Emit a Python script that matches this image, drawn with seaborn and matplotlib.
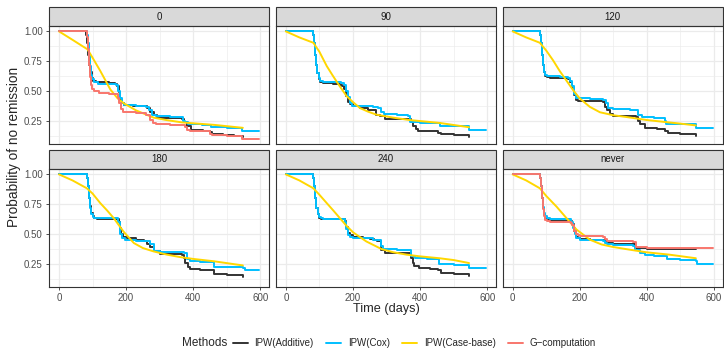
import pandas as pd
import numpy as np
import matplotlib.pyplot as plt
import matplotlib.ticker as mtick
from matplotlib.lines import Line2D
from matplotlib.patches import Rectangle
import seaborn as sns

# ─── DATA ─────────────────────────────────────────────────────────────────────
FACETS  = ["0", "90", "120", "180", "240", "never"]
METHODS = ["IPW(Additive)", "IPW(Cox)", "IPW(Case-base)", "G\u2212computation"]

# facet "0"
t_add_0 = [0, 81, 84, 87, 90, 93, 97, 102, 110, 150, 168, 173, 178, 183, 188, 195, 220, 262, 272, 282, 292, 330, 367, 372, 380, 392, 430, 451, 456, 490, 521, 548]
s_add_0 = [1.0, 0.97, 0.9, 0.8, 0.72, 0.66, 0.61, 0.59, 0.575, 0.57, 0.56, 0.54, 0.49, 0.43, 0.40, 0.385, 0.375, 0.36, 0.33, 0.305, 0.28, 0.275, 0.265, 0.24, 0.21, 0.175, 0.17, 0.16, 0.14, 0.135, 0.125, 0.12]
t_cox_0 = [0, 83, 86, 89, 92, 95, 99, 104, 115, 150, 170, 176, 182, 188, 195, 230, 258, 268, 278, 290, 330, 370, 376, 385, 400, 425, 452, 460, 500, 545, 550, 597]
s_cox_0 = [1.0, 0.97, 0.9, 0.8, 0.71, 0.64, 0.6, 0.575, 0.565, 0.56, 0.55, 0.5, 0.44, 0.40, 0.385, 0.375, 0.365, 0.34, 0.30, 0.29, 0.285, 0.255, 0.24, 0.23, 0.225, 0.22, 0.205, 0.20, 0.195, 0.17, 0.165, 0.165]
t_cb_0  = [0, 40, 85, 100, 123, 153, 175, 193, 230, 282, 320, 367, 461, 548]
s_cb_0  = [1.0, 0.93, 0.85, 0.78, 0.67, 0.515, 0.44, 0.40, 0.34, 0.28, 0.26, 0.24, 0.22, 0.195]
t_gc_0  = [0, 83, 86, 89, 92, 95, 99, 104, 120, 150, 170, 176, 180, 186, 192, 230, 260, 272, 280, 288, 330, 375, 382, 390, 450, 456, 500, 545, 597]
s_gc_0  = [1.0, 0.95, 0.85, 0.72, 0.62, 0.55, 0.52, 0.50, 0.485, 0.48, 0.475, 0.44, 0.40, 0.35, 0.325, 0.315, 0.30, 0.26, 0.235, 0.225, 0.22, 0.2, 0.18, 0.17, 0.145, 0.135, 0.13, 0.105, 0.105]

# facet "90"
t_add_90 = [0, 82, 85, 88, 91, 94, 98, 102, 110, 140, 162, 168, 174, 180, 186, 192, 200, 221, 245, 270, 280, 295, 330, 369, 373, 379, 387, 394, 430, 453, 463, 500, 545]
s_add_90 = [1.0, 0.97, 0.9, 0.8, 0.72, 0.65, 0.6, 0.58, 0.57, 0.565, 0.555, 0.54, 0.515, 0.46, 0.41, 0.39, 0.38, 0.36, 0.345, 0.305, 0.29, 0.27, 0.268, 0.265, 0.24, 0.21, 0.185, 0.17, 0.165, 0.155, 0.14, 0.135, 0.12]
t_cox_90 = [0, 82, 85, 88, 91, 94, 98, 102, 110, 140, 165, 172, 178, 184, 190, 198, 215, 260, 275, 285, 292, 330, 364, 369, 400, 458, 547, 597]
s_cox_90 = [1.0, 0.97, 0.9, 0.8, 0.72, 0.65, 0.61, 0.59, 0.58, 0.575, 0.57, 0.55, 0.5, 0.45, 0.4, 0.38, 0.375, 0.37, 0.36, 0.33, 0.31, 0.305, 0.29, 0.245, 0.235, 0.21, 0.175, 0.175]
t_cb_90  = [0, 40, 82, 100, 122, 140, 157, 181, 200, 221, 245, 270, 320, 369, 458, 546]
s_cb_90  = [1.0, 0.95, 0.905, 0.83, 0.71, 0.63, 0.557, 0.46, 0.41, 0.36, 0.33, 0.305, 0.28, 0.26, 0.236, 0.20]

# facet "120"
t_add_120 = [0, 81, 84, 87, 90, 93, 97, 101, 110, 140, 165, 170, 176, 182, 188, 195, 230, 270, 275, 282, 290, 300, 340, 368, 374, 380, 393, 430, 453, 463, 500, 546]
s_add_120 = [1.0, 0.97, 0.9, 0.8, 0.72, 0.66, 0.63, 0.62, 0.615, 0.61, 0.605, 0.58, 0.53, 0.47, 0.43, 0.42, 0.415, 0.41, 0.37, 0.34, 0.31, 0.295, 0.29, 0.285, 0.25, 0.225, 0.195, 0.185, 0.17, 0.15, 0.14, 0.13]
t_cox_120 = [0, 81, 84, 87, 90, 93, 97, 101, 110, 140, 165, 170, 176, 182, 188, 195, 230, 270, 278, 285, 300, 350, 368, 374, 385, 420, 453, 458, 500, 546, 597]
s_cox_120 = [1.0, 0.97, 0.9, 0.8, 0.72, 0.66, 0.64, 0.63, 0.625, 0.62, 0.615, 0.59, 0.54, 0.48, 0.445, 0.44, 0.435, 0.43, 0.40, 0.36, 0.35, 0.345, 0.34, 0.30, 0.285, 0.28, 0.255, 0.23, 0.225, 0.195, 0.195]
t_cb_120  = [0, 40, 81, 100, 120, 140, 160, 180, 200, 230, 260, 300, 340, 400, 450, 500, 546]
s_cb_120  = [1.0, 0.95, 0.905, 0.84, 0.76, 0.67, 0.59, 0.51, 0.44, 0.37, 0.325, 0.30, 0.285, 0.26, 0.245, 0.23, 0.215]

# facet "180"
t_add_180 = [0, 83, 86, 89, 92, 96, 100, 105, 113, 140, 178, 182, 186, 190, 203, 230, 252, 262, 272, 282, 300, 367, 372, 376, 384, 391, 420, 451, 461, 500, 548]
s_add_180 = [1.0, 0.97, 0.9, 0.8, 0.74, 0.68, 0.65, 0.635, 0.625, 0.625, 0.6, 0.55, 0.5, 0.48, 0.47, 0.455, 0.44, 0.42, 0.39, 0.36, 0.335, 0.33, 0.3, 0.26, 0.23, 0.21, 0.205, 0.2, 0.17, 0.16, 0.145]
t_cox_180 = [0, 83, 86, 89, 92, 96, 100, 105, 113, 140, 175, 183, 188, 198, 230, 272, 282, 300, 372, 380, 391, 420, 461, 500, 548, 555, 597]
s_cox_180 = [1.0, 0.97, 0.9, 0.8, 0.72, 0.67, 0.645, 0.64, 0.635, 0.635, 0.6, 0.5, 0.465, 0.455, 0.44, 0.42, 0.36, 0.35, 0.345, 0.29, 0.275, 0.27, 0.23, 0.225, 0.22, 0.2, 0.2]
t_cb_180  = [0, 40, 83, 100, 123, 143, 163, 193, 223, 250, 282, 322, 360, 401, 461, 548]
s_cb_180  = [1.0, 0.95, 0.884, 0.84, 0.76, 0.70, 0.635, 0.52, 0.427, 0.385, 0.357, 0.33, 0.31, 0.294, 0.275, 0.24]

# facet "240"
t_add_240 = [0, 82, 85, 88, 91, 95, 99, 104, 112, 150, 175, 180, 185, 190, 201, 230, 250, 262, 272, 285, 295, 340, 373, 378, 383, 398, 430, 453, 463, 500, 546]
s_add_240 = [1.0, 0.97, 0.9, 0.8, 0.72, 0.67, 0.64, 0.63, 0.625, 0.625, 0.61, 0.56, 0.51, 0.49, 0.475, 0.465, 0.46, 0.45, 0.44, 0.37, 0.345, 0.345, 0.3, 0.26, 0.235, 0.22, 0.21, 0.2, 0.18, 0.17, 0.155]
t_cox_240 = [0, 82, 85, 88, 91, 95, 99, 104, 112, 150, 175, 180, 185, 190, 200, 230, 260, 270, 283, 290, 330, 365, 372, 385, 420, 455, 500, 546, 597]
s_cox_240 = [1.0, 0.97, 0.9, 0.8, 0.72, 0.67, 0.645, 0.635, 0.63, 0.63, 0.6, 0.54, 0.49, 0.475, 0.47, 0.465, 0.455, 0.45, 0.40, 0.375, 0.372, 0.37, 0.32, 0.3, 0.295, 0.255, 0.24, 0.22, 0.215]
t_cb_240  = [0, 40, 82, 100, 122, 141, 161, 181, 201, 240, 285, 320, 360, 399, 458, 500, 546]
s_cb_240  = [1.0, 0.95, 0.884, 0.83, 0.76, 0.70, 0.635, 0.57, 0.515, 0.44, 0.377, 0.35, 0.33, 0.316, 0.30, 0.285, 0.26]

# facet "never"
t_add_nv = [0, 81, 84, 87, 90, 93, 97, 101, 110, 140, 175, 178, 183, 188, 195, 200, 230, 270, 275, 280, 300, 360, 365, 400, 546]
s_add_nv = [1.0, 0.97, 0.9, 0.8, 0.72, 0.66, 0.63, 0.62, 0.615, 0.615, 0.61, 0.59, 0.53, 0.48, 0.47, 0.46, 0.455, 0.455, 0.44, 0.425, 0.42, 0.415, 0.385, 0.38, 0.38]
t_cox_nv = [0, 81, 84, 87, 90, 93, 97, 101, 110, 140, 160, 175, 180, 185, 190, 200, 230, 270, 275, 280, 300, 360, 365, 380, 395, 420, 455, 460, 500, 545, 550, 597]
s_cox_nv = [1.0, 0.97, 0.9, 0.8, 0.73, 0.68, 0.65, 0.635, 0.63, 0.63, 0.625, 0.6, 0.55, 0.5, 0.465, 0.455, 0.45, 0.445, 0.43, 0.42, 0.41, 0.405, 0.37, 0.345, 0.325, 0.32, 0.32, 0.29, 0.285, 0.275, 0.255, 0.255]
t_cb_nv  = [0, 40, 81, 100, 131, 165, 190, 230, 265, 299, 348, 398, 467, 546]
s_cb_nv  = [1.0, 0.95, 0.884, 0.82, 0.73, 0.62, 0.54, 0.455, 0.415, 0.394, 0.372, 0.35, 0.33, 0.30]
t_gc_nv  = [0, 81, 84, 87, 90, 93, 97, 101, 110, 140, 175, 178, 183, 188, 195, 200, 230, 270, 275, 280, 300, 360, 368, 400, 597]
s_gc_nv  = [1.0, 0.97, 0.9, 0.8, 0.71, 0.65, 0.62, 0.61, 0.605, 0.6, 0.595, 0.58, 0.53, 0.5, 0.49, 0.485, 0.485, 0.48, 0.46, 0.445, 0.44, 0.435, 0.39, 0.385, 0.385]

SERIES = [
    ("0", METHODS[0], t_add_0, s_add_0), ("0", METHODS[1], t_cox_0, s_cox_0),
    ("0", METHODS[2], t_cb_0, s_cb_0), ("0", METHODS[3], t_gc_0, s_gc_0),
    ("90", METHODS[0], t_add_90, s_add_90), ("90", METHODS[1], t_cox_90, s_cox_90),
    ("90", METHODS[2], t_cb_90, s_cb_90),
    ("120", METHODS[0], t_add_120, s_add_120), ("120", METHODS[1], t_cox_120, s_cox_120),
    ("120", METHODS[2], t_cb_120, s_cb_120),
    ("180", METHODS[0], t_add_180, s_add_180), ("180", METHODS[1], t_cox_180, s_cox_180),
    ("180", METHODS[2], t_cb_180, s_cb_180),
    ("240", METHODS[0], t_add_240, s_add_240), ("240", METHODS[1], t_cox_240, s_cox_240),
    ("240", METHODS[2], t_cb_240, s_cb_240),
    ("never", METHODS[0], t_add_nv, s_add_nv), ("never", METHODS[1], t_cox_nv, s_cox_nv),
    ("never", METHODS[2], t_cb_nv, s_cb_nv), ("never", METHODS[3], t_gc_nv, s_gc_nv),
]

df = pd.concat([pd.DataFrame({"facet": f, "method": m, "time": t, "surv": s})
                for f, m, t, s in SERIES], ignore_index=True)

# ─── STYLE ────────────────────────────────────────────────────────────────────
sns.set_theme(style="white")
plt.rcParams["font.family"] = ["Liberation Sans", "DejaVu Sans"]

COLORS = {METHODS[0]: "#333333", METHODS[1]: "#00BFFF",
          METHODS[2]: "#FFD700", METHODS[3]: "#F8766D"}
DARK = "#333333"
GRID = "#EBEBEB"
LW = 1.4
W, H = 724, 349


def draw(data, **kws):
    ax = plt.gca()
    for m in METHODS:
        d = data[data["method"] == m]
        if d.empty:
            continue
        ds = "default" if m == METHODS[2] else "steps-post"
        sns.lineplot(data=d, x="time", y="surv", ax=ax, color=COLORS[m],
                     lw=LW, drawstyle=ds, estimator=None, sort=True)


g = sns.FacetGrid(df, col="facet", col_wrap=3, col_order=FACETS,
                  despine=False, sharex=True, sharey=True)
g.map_dataframe(draw)
fig = g.figure
fig.set_size_inches(W / 100, H / 100)
fig.subplots_adjust(left=49 / W, right=723 / W, top=1 - 26 / H, bottom=1 - 287 / H,
                    wspace=6.5 / 220.5, hspace=25 / 118)

strip_h = 19 / 118
for i, (ax, name) in enumerate(zip(g.axes.flat, FACETS)):
    ax.set_title("")
    ax.set_xlabel("")
    ax.set_ylabel("")
    ax.set_xlim(-29.85, 626.85)
    ax.set_ylim(0.06, 1.045)
    ax.set_facecolor("white")
    ax.xaxis.set_major_locator(mtick.FixedLocator([0, 200, 400, 600]))
    ax.xaxis.set_minor_locator(mtick.FixedLocator([100, 300, 500]))
    ax.yaxis.set_major_locator(mtick.FixedLocator([0.25, 0.5, 0.75, 1.0]))
    ax.yaxis.set_minor_locator(mtick.FixedLocator([0.125, 0.375, 0.625, 0.875]))
    ax.yaxis.set_major_formatter(mtick.FuncFormatter(lambda v, _: f"{v:.2f}"))
    ax.grid(which="major", color=GRID, lw=0.9)
    ax.grid(which="minor", color=GRID, lw=0.45)
    ax.set_axisbelow(True)
    for sp in ax.spines.values():
        sp.set_color(DARK)
        sp.set_linewidth(0.8)
    bottom = i >= 3
    left = i % 3 == 0
    ax.tick_params(axis="x", which="major", bottom=bottom, labelbottom=bottom,
                   length=2.5, width=0.6, color=DARK, labelsize=7, labelcolor="#4D4D4D", pad=2)
    ax.tick_params(axis="y", which="major", left=left, labelleft=left,
                   length=2.5, width=0.6, color=DARK, labelsize=7, labelcolor="#4D4D4D", pad=2)
    ax.tick_params(which="minor", length=0)
    # facet strip
    ax.add_patch(Rectangle((0, 1), 1, strip_h, transform=ax.transAxes,
                           facecolor="#D9D9D9", edgecolor=DARK, lw=0.8, clip_on=False))
    ax.text(0.5, 1 + strip_h / 2, name, transform=ax.transAxes, ha="center",
            va="center", fontsize=7, color="#1A1A1A")

fig.text(386 / W, 1 - 309 / H, "Time (days)", ha="center", va="center", fontsize=9.2)
fig.text(14 / W, 1 - 147 / H, "Probability of no remission", ha="center",
         va="center", rotation=90, fontsize=9.8)

# legend at the bottom, title inline
fig.text(182 / W, 1 - 343 / H, "Methods", ha="left", va="center", fontsize=8.5)
handles = [Line2D([], [], color=COLORS[m], lw=LW) for m in METHODS]
fig.legend(handles, METHODS, loc="center left", bbox_to_anchor=(233 / W, 1 - 343 / H),
           ncol=4, frameon=False, fontsize=7, handlelength=1.5, handletextpad=0.7,
           columnspacing=1.3, borderaxespad=0, borderpad=0)

fig.savefig("out.png", dpi=100)
plt.close()
